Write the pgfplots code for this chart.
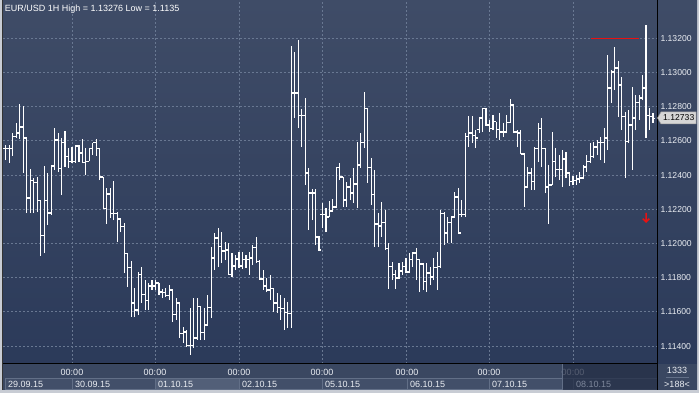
\documentclass[border=0pt]{standalone}
\usepackage{pgfplots}
\pgfplotsset{compat=1.18}
\usepackage{pgfplotstable}
\usepackage{fontspec}
\setmainfont{Liberation Sans}

\definecolor{bgtop}{RGB}{63,76,103}
\definecolor{bgbot}{RGB}{42,57,89}
\definecolor{gridc}{RGB}{105,120,146}
\definecolor{bandc}{RGB}{58,71,97}
\definecolor{boxc}{RGB}{66,79,105}
\definecolor{boxhi}{RGB}{82,95,120}
\definecolor{boxline}{RGB}{98,111,135}
\definecolor{framec}{RGB}{200,204,212}
\definecolor{txtc}{RGB}{235,238,243}
\definecolor{dimtxt}{RGB}{125,135,155}
\definecolor{ovc}{RGB}{36,46,70}
\definecolor{redc}{RGB}{232,18,18}

\newcommand\tf{\fontsize{9}{10}\selectfont}

\pgfdeclareplotmark{otick}{\pgfpathmoveto{\pgfqpoint{-2.4pt}{0pt}}\pgfpathlineto{\pgfqpoint{0pt}{0pt}}\pgfusepathqstroke}
\pgfdeclareplotmark{ctick}{\pgfpathmoveto{\pgfqpoint{0pt}{0pt}}\pgfpathlineto{\pgfqpoint{2.4pt}{0pt}}\pgfusepathqstroke}
\pgfdeclareplotmark{darrow}{\pgfpathmoveto{\pgfqpoint{0pt}{4.5pt}}\pgfpathlineto{\pgfqpoint{0pt}{-4.5pt}}\pgfpathmoveto{\pgfqpoint{-3.3pt}{-1.2pt}}\pgfpathlineto{\pgfqpoint{0pt}{-4.5pt}}\pgfpathlineto{\pgfqpoint{3.3pt}{-1.2pt}}\pgfusepathqstroke}

\pgfplotstableread{
k H L O C
-19 1.12576 1.12488 1.12553 1.12553
-18 1.12576 1.12471 1.12553 1.12553
-17 1.12646 1.12512 1.12553 1.12623
-16 1.12705 1.12617 1.12623 1.12646
-15 1.12816 1.12611 1.12646 1.12681
-14 1.12804 1.12412 1.12681 1.12617
-13 1.12617 1.12178 1.12617 1.12266
-12 1.12436 1.12178 1.12266 1.12366
-11 1.12383 1.12178 1.12366 1.12354
-10 1.12389 1.12184 1.12354 1.12249
-9 1.12254 1.11927 1.12249 1.12044
-8 1.12453 1.11944 1.12044 1.12249
-7 1.12412 1.12108 1.12249 1.12178
-6 1.12459 1.12167 1.12178 1.12453
-5 1.12675 1.12430 1.12453 1.12605
-4 1.12646 1.12418 1.12605 1.12436
-3 1.12617 1.12284 1.12436 1.12588
-2 1.12658 1.12447 1.12588 1.12506
-1 1.12558 1.12442 1.12506 1.12477
0 1.12564 1.12471 1.12477 1.12477
1 1.12576 1.12471 1.12477 1.12570
2 1.12576 1.12477 1.12570 1.12529
3 1.12611 1.12471 1.12529 1.12471
4 1.12558 1.12401 1.12471 1.12482
5 1.12558 1.12480 1.12482 1.12558
6 1.12588 1.12518 1.12558 1.12588
7 1.12611 1.12512 1.12588 1.12553
8 1.12553 1.12371 1.12553 1.12389
9 1.12389 1.12202 1.12389 1.12202
10 1.12325 1.12114 1.12202 1.12289
11 1.12325 1.12149 1.12289 1.12173
12 1.12366 1.12137 1.12173 1.12173
13 1.12184 1.12009 1.12173 1.12143
14 1.12149 1.12067 1.12143 1.12097
15 1.12120 1.11827 1.12097 1.11939
16 1.11939 1.11746 1.11939 1.11857
17 1.11898 1.11570 1.11857 1.11652
18 1.11740 1.11570 1.11652 1.11611
19 1.11833 1.11582 1.11611 1.11816
20 1.11863 1.11652 1.11816 1.11699
21 1.11787 1.11611 1.11699 1.11664
22 1.11769 1.11611 1.11664 1.11751
23 1.11787 1.11728 1.11751 1.11751
24 1.11787 1.11728 1.11751 1.11769
25 1.11769 1.11699 1.11769 1.11716
26 1.11734 1.11681 1.11716 1.11711
27 1.11740 1.11687 1.11711 1.11693
28 1.11757 1.11670 1.11693 1.11728
29 1.11728 1.11541 1.11728 1.11582
30 1.11681 1.11553 1.11582 1.11652
31 1.11652 1.11447 1.11652 1.11471
32 1.11512 1.11418 1.11471 1.11482
33 1.11494 1.11395 1.11482 1.11401
34 1.11623 1.11348 1.11401 1.11401
35 1.11681 1.11389 1.11401 1.11447
36 1.11681 1.11436 1.11447 1.11629
37 1.11629 1.11436 1.11629 1.11477
38 1.11623 1.11436 1.11477 1.11523
39 1.11699 1.11523 1.11523 1.11623
40 1.11980 1.11564 1.11623 1.11915
41 1.12061 1.11845 1.11915 1.12032
42 1.12091 1.11863 1.12032 1.11980
43 1.12067 1.11886 1.11980 1.11956
44 1.12009 1.11904 1.11956 1.11962
45 1.12003 1.11816 1.11962 1.11816
46 1.11944 1.11804 1.11816 1.11868
47 1.11933 1.11845 1.11868 1.11909
48 1.11950 1.11857 1.11909 1.11868
49 1.11950 1.11851 1.11868 1.11904
50 1.11933 1.11857 1.11904 1.11904
51 1.11950 1.11816 1.11904 1.11915
52 1.11991 1.11874 1.11915 1.11974
53 1.12038 1.11886 1.11974 1.11892
54 1.11904 1.11787 1.11892 1.11792
55 1.11845 1.11728 1.11792 1.11751
56 1.11798 1.11716 1.11751 1.11728
57 1.11816 1.11670 1.11728 1.11734
58 1.11740 1.11599 1.11734 1.11652
59 1.11711 1.11594 1.11652 1.11623
60 1.11699 1.11553 1.11623 1.11617
61 1.11681 1.11494 1.11617 1.11594
62 1.11658 1.11506 1.11594 1.11588
63 1.13155 1.11506 1.11588 1.12880
64 1.13120 1.12734 1.12880 1.12880
65 1.13190 1.12675 1.12880 1.12746
66 1.12787 1.12564 1.12746 1.12751
67 1.12851 1.12342 1.12751 1.12412
68 1.12442 1.12079 1.12412 1.12295
69 1.12319 1.12137 1.12295 1.12295
70 1.12319 1.11991 1.12295 1.12038
71 1.12044 1.11956 1.12038 1.11962
72 1.12237 1.12091 1.12167 1.12167
73 1.12208 1.12067 1.12167 1.12155
74 1.12249 1.12155 1.12155 1.12190
75 1.12260 1.12190 1.12190 1.12213
76 1.12442 1.12208 1.12213 1.12442
77 1.12471 1.12371 1.12442 1.12389
78 1.12389 1.12213 1.12389 1.12254
79 1.12360 1.12213 1.12254 1.12330
80 1.12383 1.12254 1.12330 1.12295
81 1.12442 1.12237 1.12295 1.12348
82 1.12594 1.12208 1.12348 1.12459
83 1.12646 1.12442 1.12459 1.12588
84 1.12886 1.12558 1.12588 1.12787
85 1.12792 1.12354 1.12787 1.12442
86 1.12500 1.12225 1.12442 1.12284
87 1.12430 1.11980 1.12284 1.12114
88 1.12178 1.11980 1.12114 1.12102
89 1.12243 1.12038 1.12102 1.12120
90 1.12196 1.11962 1.12120 1.11968
91 1.12003 1.11734 1.11968 1.11863
92 1.11892 1.11787 1.11863 1.11816
93 1.11845 1.11734 1.11816 1.11798
94 1.11886 1.11792 1.11798 1.11839
95 1.11892 1.11816 1.11839 1.11863
96 1.11915 1.11827 1.11863 1.11833
97 1.11944 1.11827 1.11833 1.11904
98 1.11950 1.11863 1.11904 1.11944
99 1.11974 1.11787 1.11944 1.11904
100 1.11904 1.11716 1.11904 1.11880
101 1.11886 1.11728 1.11880 1.11775
102 1.11886 1.11716 1.11775 1.11827
103 1.11863 1.11757 1.11827 1.11804
104 1.11915 1.11787 1.11804 1.11857
105 1.11950 1.11728 1.11857 1.11863
106 1.12196 1.11857 1.11863 1.12173
107 1.12184 1.11991 1.12173 1.12061
108 1.12155 1.12003 1.12061 1.12120
109 1.12155 1.12003 1.12120 1.12155
110 1.12301 1.12149 1.12155 1.12272
111 1.12325 1.12056 1.12272 1.12061
112 1.12254 1.12155 1.12167 1.12167
113 1.12646 1.12155 1.12167 1.12623
114 1.12746 1.12564 1.12623 1.12646
115 1.12746 1.12588 1.12646 1.12629
116 1.12664 1.12558 1.12629 1.12617
117 1.12740 1.12646 1.12664 1.12734
118 1.12792 1.12652 1.12734 1.12787
119 1.12792 1.12687 1.12787 1.12693
120 1.12722 1.12652 1.12693 1.12670
121 1.12751 1.12664 1.12670 1.12711
122 1.12711 1.12617 1.12711 1.12664
123 1.12763 1.12605 1.12664 1.12652
124 1.12705 1.12623 1.12652 1.12652
125 1.12751 1.12646 1.12652 1.12705
126 1.12845 1.12705 1.12705 1.12810
127 1.12810 1.12646 1.12810 1.12652
128 1.12664 1.12564 1.12652 1.12646
129 1.12664 1.12523 1.12646 1.12523
130 1.12529 1.12213 1.12523 1.12330
131 1.12447 1.12330 1.12330 1.12412
132 1.12442 1.12313 1.12412 1.12360
133 1.12564 1.12313 1.12360 1.12553
134 1.12705 1.12477 1.12553 1.12670
135 1.12734 1.12447 1.12670 1.12558
136 1.12558 1.12295 1.12558 1.12330
137 1.12459 1.12114 1.12330 1.12342
138 1.12652 1.12342 1.12342 1.12477
139 1.12558 1.12389 1.12477 1.12430
140 1.12518 1.12371 1.12430 1.12430
141 1.12547 1.12330 1.12430 1.12494
142 1.12535 1.12383 1.12494 1.12412
143 1.12412 1.12336 1.12412 1.12360
144 1.12395 1.12342 1.12360 1.12366
145 1.12401 1.12342 1.12366 1.12377
146 1.12418 1.12354 1.12377 1.12383
147 1.12459 1.12377 1.12383 1.12447
148 1.12518 1.12418 1.12447 1.12477
149 1.12588 1.12471 1.12477 1.12506
150 1.12594 1.12500 1.12506 1.12564
151 1.12605 1.12518 1.12564 1.12588
152 1.12623 1.12488 1.12588 1.12588
153 1.12675 1.12471 1.12588 1.12617
154 1.13102 1.12547 1.12617 1.12909
155 1.13015 1.12822 1.12909 1.13003
156 1.13149 1.12898 1.13003 1.13026
157 1.13067 1.12740 1.13026 1.12927
158 1.12974 1.12664 1.12927 1.12740
159 1.12769 1.12383 1.12740 1.12594
160 1.12781 1.12588 1.12594 1.12693
161 1.12915 1.12430 1.12693 1.12734
162 1.12868 1.12664 1.12734 1.12822
163 1.12868 1.12722 1.12822 1.12851
164 1.12985 1.12839 1.12851 1.12909
165 1.13276 1.12617 1.12909 1.12751
166 1.12792 1.12664 1.12751 1.12740
167 1.12763 1.12705 1.12740 1.12733
}\ohlc

\begin{document}
\begin{tikzpicture}
\clip (0,0) rectangle (699pt,393pt);
% ---------- backgrounds (pixel coordinates, origin top-left) ----------
\begin{scope}[x=1pt,y=-1pt,shift={(0pt,393pt)}]
  \fill[framec] (0,0) rectangle (699,393);
  \shade[top color=bgtop,bottom color=bgbot] (2.5,0) rectangle (697,390);
  \fill[bandc] (2.5,364) rectangle (697,390);
  \foreach \a/\b in {5/72,72/155,239/322,322/407,407/489,489/573,573/657}
    \filldraw[fill=boxc,draw=boxline,line width=0.6pt] (\a,378.5) rectangle (\b,389.5);
  \filldraw[fill=boxhi,draw=boxline,line width=0.6pt] (155,378.5) rectangle (239,389.5);
  \foreach \g in {72,155,239,322,407,489,573}
    \node[anchor=base,font=\tf,text=txtc,inner sep=0pt] at (\g,376) {00:00};
  \foreach \a/\d in {5/29.09.15,72/30.09.15,155/01.10.15,239/02.10.15,322/05.10.15,407/06.10.15,489/07.10.15}
    \node[anchor=base west,font=\tf,text=txtc,inner sep=0pt] at (\a+3,387.3) {\d};
\end{scope}

\begin{axis}[
  at={(3.5pt,29pt)}, anchor=south west,
  width=653.5pt, height=364pt, scale only axis,
  xmin=-19.69, xmax=168.15, ymin=1.11295, ymax=1.13424,
  axis line style={draw=none},
  xtick={0,24,48,72,96,120,144}, xticklabels={},
  ytick={1.114,1.116,1.118,1.12,1.122,1.124,1.126,1.128,1.13,1.132},
  scaled y ticks=false,
  yticklabel pos=right,
  major tick length=0pt,
  grid=major,
  major grid style={draw=gridc, dash pattern=on 2pt off 2pt, line width=0.8pt},
  y tick label style={font=\fontsize{8.6}{10}\selectfont, text=txtc},
  /pgf/number format/.cd, fixed, fixed zerofill, precision=5, assume math mode=true,
]
% high-low ranges
\addplot[draw=none, mark=none, forget plot,
  error bars/.cd, y dir=plus, y explicit, error mark=none,
  error bar style={draw=white, line width=1.1pt}]
  table[x=k, y=L, y error expr=\thisrow{H}-\thisrow{L}] {\ohlc};
% open ticks
\addplot[only marks, mark=otick, mark options={draw=white, line width=1.1pt}, forget plot]
  table[x=k, y=O] {\ohlc};
% close ticks
\addplot[only marks, mark=ctick, mark options={draw=white, line width=1.1pt}, forget plot]
  table[x=k, y=C] {\ohlc};
% red level line
\addplot[draw=redc, line width=1.8pt, forget plot] coordinates {(149.2,1.13199) (163.0,1.13199)};
% red down arrow
\addplot[only marks, mark=darrow, mark options={draw=redc, line width=1.5pt}, forget plot]
  coordinates {(165,1.12152)};
\end{axis}

% ---------- overlays ----------
\begin{scope}[x=1pt,y=-1pt,shift={(0pt,393pt)}]
  \fill[ovc,opacity=0.75] (562.7,364) rectangle (657,390);
  \draw[boxline,line width=0.6pt] (562.7,364) -- (562.7,390);
  \node[anchor=base west,font=\tf,text=dimtxt,inner sep=0pt] at (576,387.3) {08.10.15};
  \draw[black,line width=1pt] (2.5,364) -- (657,364);
  \draw[black,line width=1pt] (657,0) -- (657,390);
  \draw[black!80,line width=0.8pt] (2.4,0) -- (2.4,390);
  % current price tag
  \filldraw[fill=black!16,draw=black!40,line width=0.5pt] (657.5,118) -- (661,112) -- (696,112) -- (696,124) -- (661,124) -- cycle;
  \node[anchor=base west,font=\fontsize{8.6}{10}\selectfont,text=black,inner sep=0pt] at (663,120.8) {1.12733};
  % bottom-right counters
  \node[font=\tf,text=txtc,inner sep=0pt] at (677,370.8) {1333};
  \draw[boxline,line width=0.8pt] (666,377.3) -- (689,377.3);
  \node[font=\tf,text=txtc,inner sep=0pt] at (677,384.3) {>188<};
  % title
  \node[anchor=base west,font=\tf,text=white,inner sep=0pt] at (4.7,11.7) {EUR/USD 1H High = 1.13276 Low = 1.1135};
\end{scope}
\end{tikzpicture}
\end{document}
